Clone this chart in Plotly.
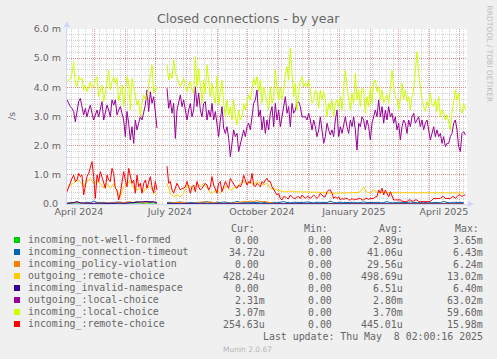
import numpy as np
import pandas as pd
import plotly.graph_objects as go

# ---------------- time base ----------------
START = pd.Timestamp("2024-04-03 02:00")
END = pd.Timestamp("2025-05-08 02:00")
SEG1_DAY = 0.0        # first block of data (days after START)
SEG2_DAY = 100.0      # data resumes after the outage
GAP_DAY = 95.0
FINE = 5.0 / 3.0      # sampling (days) of the fine series
COARSE = 10.0 / 3.0   # sampling (days) of the coarse series

# ---------------- values (milli per second) ----------------
lime_s1 = [4.19,4.25,4.31,4.48,4.88,4.14,4.02,4.37,4.25,4.31,3.91,4.08,3.85,4.02,4.19,3.97,4.02,4.25,4.37,3.68,
           3.91,4.08,3.51,3.79,4.14,4.59,3.91,4.19,4.37,4.14,4.31,3.51,3.79,4.08,3.34,3.85,4.37,4.19,3.22,4.31,
           4.02,3.68,3.39,3.57,2.99,3.45,3.74,3.57,3.68,4.02,4.48,4.77,3.79,4.02,3.91]
lime_s2 = [4.77,4.25,4.48,4.31,4.94,4.48,4.37,4.14,4.02,4.20,4.31,4.02,3.85,4.08,4.19,3.91,3.80,
           5.05,
           4.02,4.65,4.02,3.45,4.25,3.80,4.77,4.31,3.68,4.14, 3.68,3.45,4.37,3.39,3.85,4.25,3.45,2.99,3.57,3.05,
           3.34,2.88,3.57,2.99,2.71,3.22,2.88,2.99,3.45,3.22, 3.51,3.74,3.57,4.02,4.31,4.08,4.37,3.85,4.25,3.45,
           4.02,3.74,3.45,3.22,4.02,3.45,3.68,4.59,3.91,3.57, 4.02,3.57,3.85,4.48,4.71,4.25,5.34,4.37,3.68,4.14,
           3.22,3.80,4.25,4.37,4.02,4.14,4.02,4.25,3.74,3.45, 3.57,3.91,3.80,3.28,3.91,3.57,3.85,3.57,2.99,3.45,
           3.22,
           3.57,2.99,3.45,3.57,3.34,3.68,3.22,4.02,4.59,4.02, 3.68,3.22,3.80,3.45,4.48,3.57,3.91,3.34,3.97,3.91,
           3.11,3.68,3.34,4.02,3.45,4.14,4.25,3.85,4.02,3.57, 3.91,3.45,3.62,3.74,3.45,4.08,4.59,4.02,3.68,3.57,
           3.22,3.62,4.14,3.57,3.91,3.51,3.68,3.22,3.68,3.91, 4.71,5.22,4.48,4.02,3.57,3.34,3.17,3.51,3.34,3.80,
           3.45,3.34,3.57,3.17,3.68,2.99,3.22,3.11,2.88,3.05, 2.77,2.54,3.11,3.57,3.91,3.57,3.80,3.22,3.11,3.45,
           3.22]

purple_s1 = [3.57,3.45,3.34,3.28,3.17,2.82,3.22,3.51,3.62,3.34, 3.05,3.28,2.99,3.22,3.39,3.11,2.88,3.05,3.22,2.99,
             3.28,3.51,2.88,3.17,3.39,3.22,2.99,3.57,3.39,3.57, 3.05,3.22,3.34,3.11,2.88,2.31,3.17,2.77,2.20,2.65,
             2.08,2.88,2.54,2.77,2.99,2.88,3.11,3.39,3.91,3.17, 3.85,3.45,3.68,3.11,2.60]
purple_s2 = [3.97,3.28,3.57,3.11,3.45,2.25,3.22,3.45,3.74,3.34,3.57,3.22,2.88,3.22,3.45,2.99,3.22,
             4.02,
             3.34,3.80,3.22,2.99,3.45,3.51,2.88,3.22,2.99,3.45, 2.88,3.17,2.77,2.31,2.88,3.34,2.60,2.42,2.65,2.25,
             1.62,2.20,2.54,2.31,2.42,1.80,2.08,2.37,2.54,2.31, 2.65,2.77,2.54,2.99,3.45,3.57,3.91,2.99,3.22,2.54,
             2.99,2.42,2.88,2.54,3.11,3.34,2.65,3.45,2.88,3.22, 2.65,2.99,3.34,3.68,3.11,3.34,2.65,3.45,3.11,3.22,
             3.45,3.51,3.34,2.99,2.99,2.99,2.88,3.11,2.88,2.54, 2.88,2.65,2.31,2.54,2.99,2.42,2.08,2.31,2.77,2.54,
             2.37,
             2.54,2.31,2.88,3.22,2.31,2.65,2.42,2.77,2.99,2.65, 2.42,2.88,2.65,2.99,2.54,1.85,2.77,2.65,2.99,2.88,
             2.54,2.88,2.65,2.20,2.77,2.99,3.22,2.99,3.57,2.99, 3.34,2.77,3.22,2.88,3.34,2.99,3.11,2.77,2.99,2.54,
             2.77,2.20,2.65,2.88,2.77,2.42,2.88,2.65,2.99,3.11, 2.77,2.88,2.99,2.65,2.88,2.54,2.77,2.88,2.54,2.20,
             2.42,2.65,2.31,2.54,2.31,2.42,2.08,2.31,1.97,2.08, 2.08,2.31,2.42,2.77,2.88,2.54,1.97,1.80,2.42,2.48,
             2.37]

red_s1 = [0.42,0.59,0.77,0.88,0.99,0.77,0.82,1.05,0.94,0.99, 0.31,0.71,0.94,1.05,1.28,1.45,0.94,0.19,0.99,0.77,
          1.11,0.94,0.71,0.54,0.99,0.82,0.77,1.22,1.05,0.54, 0.48,0.14,0.37,0.82,1.11,0.82,0.59,1.22,0.99,0.71,
          0.82,0.37,0.99,0.59,0.71,0.37,0.71,0.82,0.54,0.71, 0.94,0.59,0.37,0.77,0.48]
red_s2 = [1.30,0.71,0.77,0.48,0.37,0.54,0.71,0.59,0.48,0.54,0.54,0.59,0.77,0.59,0.37,0.59,0.65,
          0.42,0.77,0.59,0.48,0.54,0.65,0.71,0.65,0.48,0.59, 0.94,0.65,0.48,0.37,0.71,0.77,0.42,0.59,0.77,0.65,
          0.54,0.88,0.77,0.65,0.59,0.54,0.65,0.59,0.71,0.99, 0.82,0.65,0.77,0.71,1.05,0.65,0.59,0.71,0.65,0.59,
          0.77,0.71,0.82,0.88,0.77,
          0.77,0.59,0.48,0.42,0.31,0.37,0.19,0.14,0.25,0.25, 0.19,0.19,0.31,0.25,0.19,0.19,0.25,0.25,0.19,0.31,
          0.25,0.19,0.25,0.25,0.19,0.25,0.31,0.25,0.19,0.25, 0.37,0.31,0.25,0.25,0.42,0.48,
          0.48,0.37,0.19,0.25,0.19,0.25,0.14,0.19,0.16,0.19, 0.19,0.14,0.14,0.19,0.14,0.16,0.16,0.19,0.19,0.14,
          0.14,0.19,0.19,0.16,0.19,0.19,0.19,0.25,0.25,0.48, 0.37,0.54,0.31,0.48,0.37,0.25,0.42,0.25,0.14,0.14,
          0.14,0.14,0.14,0.10,0.08,0.08,0.08,0.14,0.14,0.10, 0.10,0.14,0.14,0.08,0.08,0.08,0.08,0.08,0.08,0.08,
          0.08,0.14,0.19,0.19,0.19,0.19,0.19,0.25,0.25,0.19, 0.19,0.19,0.19,0.25,0.25,0.19,0.25,0.31,0.31,0.25,
          0.31,0.31]

yellow_s1 = [0.48,0.65,0.71,0.82,0.77,0.59,0.77,0.88,0.71,0.77,0.71,0.54,0.71,0.54,0.71,0.42,0.25,0.59,0.71,0.77,
             0.54,0.48,0.54,0.42,0.59,0.59,0.42,0.31]
yellow_s2 = [0.71,0.37,0.25,0.31,0.25,0.37,0.65,0.59,0.48,0.71, 0.59,0.71,0.59,0.37,0.42,0.48,0.37,0.54,0.59,0.48,
             0.54,0.59,0.71,0.77,0.71,0.77,0.65,0.77,0.71,0.65, 0.71,
             0.54,0.54,0.48,0.45,0.42,0.42,0.45,0.42,0.42,0.42,0.42,0.42,0.42,0.42,0.42,0.40,0.39,0.38,
             0.38,0.37,0.37,0.38,0.38,0.37,0.38,0.38,0.39,0.42, 0.58,0.40,0.39,0.48,0.40,0.39,0.39,0.38,0.38,0.39,
             0.38,0.38,0.38,0.39,0.38,0.38,0.37,0.37,0.37,0.38, 0.38,0.37,0.37,0.38,0.37,0.37,0.37,0.38,0.37,0.37,
             0.38]

blue_s1 = [0.03,0.04,0.03,0.05,0.04,0.03,0.06,0.04,0.10,0.05,0.04,0.06,0.03,0.05,0.04,0.07,0.05,0.04,0.06,0.05,
           0.04,0.09,0.05,0.04,0.06,0.05,0.04,0.05]
blue_s2 = [0.05,0.06,0.04,0.05,0.07,0.04,0.05,0.06,0.05,0.04, 0.06,0.05,0.08,0.05,0.04,0.06,0.05,0.07,0.05,0.04,
           0.05,0.09,0.05,0.04,0.06,0.05,0.04,0.05,0.07,0.05, 0.04,0.05,0.06,0.04,0.05,0.08,0.05,0.04,0.06,0.05,
           0.04,0.05,0.07,0.05,0.04,0.06,0.05,0.04,0.05,0.10, 0.05,0.04,0.06,0.05,0.04,0.05,0.06,0.04,0.05,0.07,
           0.05,0.04,0.05,0.06,0.04,0.05,0.08,0.05,0.04,0.06, 0.05,0.04,0.05,0.07,0.05,0.04,0.05,0.06,0.04,0.05,
           0.06,0.05,0.04,0.09,0.05,0.04,0.06,0.05,0.04,0.05]

orange_s1 = [0.02,0.03,0.05,0.06,0.04,0.02,0.03,0.02,0.02,0.03,0.02,0.04,0.03,0.02,0.03,0.05,0.07,0.04,0.06,0.08,
             0.05,0.07,0.06,0.04,0.06,0.09,0.05,0.03]
orange_s2 = [0.02,0.03,0.05,0.04,0.06,0.05,0.03,0.02,0.02,0.03, 0.05,0.08,0.06,0.07,0.04,0.03,0.02,0.02,0.03,0.02,
             0.02,0.03,0.06,0.09,0.07,0.10,0.08,0.12,0.06,0.09, 0.07,0.05,0.02,0.01,0.01,0.02,0.01,0.01,0.01,0.02,
             0.01,0.01,0.03,0.01,0.01,0.02,0.01,0.01,0.01,0.01, 0.02,0.01,0.01,0.01,0.02,0.01,0.01,0.01,0.01,0.02,
             0.01,0.01,0.01,0.01,0.01,0.02,0.01,0.01,0.01,0.01, 0.01,0.02,0.01,0.01,0.01,0.01,0.01,0.01,0.02,0.01,
             0.01,0.01,0.01,0.01,0.02,0.01,0.01,0.01,0.01,0.01]

navy_s1 = [0.02,0.03,0.05,0.08,0.04,0.03,0.02,0.03,0.02,0.03,0.02,0.03,0.02,0.02,0.03,0.02,0.03,0.02,0.03,0.04,
           0.05,0.04,0.05,0.06,0.09,0.07,0.08,0.04]
navy_s2 = [0.01,0.01,0.00,0.00,0.01,0.00,0.00,0.00,0.00,0.00, 0.00,0.00,0.00,0.00,0.00,0.00,0.00,0.00,0.00,0.00,
           0.00,0.00,0.00,0.00,0.00,0.00,0.00,0.00,0.00,0.00, 0.00,0.00,0.00,0.00,0.00,0.00,0.00,0.00,0.00,0.00,
           0.00,0.00,0.00,0.00,0.00,0.00,0.00,0.00,0.00,0.00, 0.00,0.00,0.00,0.00,0.00,0.00,0.00,0.00,0.00,0.00,
           0.00,0.00,0.00,0.00,0.00,0.00,0.00,0.00,0.00,0.00, 0.00,0.00,0.00,0.00,0.00,0.00,0.00,0.00,0.00,0.00,
           0.00,0.00,0.00,0.00,0.00,0.00,0.00,0.00,0.00,0.00]

green_s1 = [0.00,0.00,0.00,0.00,0.00,0.00,0.00,0.00,0.00,0.00,0.00,0.00,0.00,0.00,0.00,0.00,0.00,0.00,0.00,0.00,
            0.00,0.00,0.00,0.00,0.00,0.00,0.00,0.00]
green_s2 = [0.00,0.00,0.00,0.00,0.00,0.00,0.00,0.00,0.00,0.00, 0.00,0.00,0.00,0.00,0.00,0.00,0.00,0.00,0.00,0.00,
            0.00,0.00,0.00,0.00,0.00,0.00,0.00,0.00,0.00,0.00, 0.00,0.00,0.00,0.00,0.00,0.00,0.00,0.00,0.00,0.00,
            0.00,0.00,0.00,0.00,0.00,0.00,0.00,0.00,0.00,0.00, 0.00,0.00,0.00,0.00,0.00,0.00,0.00,0.00,0.00,0.00,
            0.00,0.00,0.00,0.00,0.00,0.00,0.00,0.00,0.00,0.00, 0.00,0.00,0.00,0.00,0.00,0.00,0.00,0.00,0.00,0.00,
            0.00,0.00,0.00,0.00,0.00,0.00,0.00,0.00,0.00,0.00]

# ---------------- legend ----------------
labels = ["incoming_not-well-formed", "incoming_connection-timeout", "incoming_policy-violation",
          "outgoing_:remote-choice", "incoming_invalid-namespace", "outgoing_:local-choice",
          "incoming_:local-choice", "incoming_:remote-choice"]
colors = ["#00CC00", "#0066B3", "#FF8000", "#FFCC00", "#330099", "#990099", "#CCFF00", "#FF0000"]
cur = ["0.00 ", "34.72u", "0.00 ", "428.24u", "0.00 ", "2.31m", "3.07m", "254.63u"]
mins = ["0.00 "] * 8
avg = ["2.89u", "41.06u", "29.56u", "498.69u", "6.51u", "2.80m", "3.70m", "445.01u"]
maxs = ["3.65m", "6.43m", "6.24m", "13.02m", "6.40m", "63.02m", "59.60m", "15.98m"]

series_data = [
    (green_s1, green_s2, COARSE), (blue_s1, blue_s2, COARSE), (orange_s1, orange_s2, COARSE),
    (yellow_s1, yellow_s2, COARSE), (navy_s1, navy_s2, COARSE), (purple_s1, purple_s2, FINE),
    (lime_s1, lime_s2, FINE), (red_s1, red_s2, FINE),
]

y_ticks = [0, 1, 2, 3, 4, 5, 6]
y_text = ["0.0\u00a0", "1.0 m", "2.0 m", "3.0 m", "4.0 m", "5.0 m", "6.0 m"]
x_label_text = ["April 2024", "July 2024", "October 2024", "January 2025", "April 2025"]
x_label_at = ["2024-04-15", "2024-07-15", "2024-10-15", "2025-01-15", "2025-04-15"]


def make_xy(s1, s2, step):
    t1 = START + pd.to_timedelta(SEG1_DAY + np.arange(len(s1)) * step, unit="D")
    t2 = START + pd.to_timedelta(SEG2_DAY + np.arange(len(s2)) * step, unit="D")
    gap = START + pd.to_timedelta(GAP_DAY, unit="D")
    return list(t1) + [gap] + list(t2), list(s1) + [None] + list(s2)


# ---------------- figure geometry ----------------
W, H = 497, 359
ML, MR, MT, MB = 67, 30, 29, 155
PW, PH = W - ML - MR, H - MT - MB


def px(x):
    return (x - ML) / PW


def py(y):
    return (H - MB - y) / PH


FONT = "DejaVu Sans"
MONO = "DejaVu Sans Mono"
TXT = "#666666"
AXIS = "#CFD6F8"

fig = go.Figure()
for (s1, s2, step), name, col in zip(series_data, labels, colors):
    x, y = make_xy(s1, s2, step)
    fig.add_trace(go.Scatter(x=x, y=y, mode="lines", name=name,
                             line=dict(color=col, width=1), connectgaps=False,
                             hoverinfo="skip", showlegend=False))

month_starts = pd.date_range("2024-05-01", "2025-05-01", freq="MS")

fig.update_layout(
    width=W, height=H,
    margin=dict(l=ML, r=MR, t=MT, b=MB, pad=0),
    paper_bgcolor="#F0F0F0", plot_bgcolor="#FFFFFF",
    showlegend=False,
    xaxis=dict(type="date", range=[START, END], tickmode="array", tickvals=list(month_starts),
               showticklabels=False, ticks="", showgrid=True,
               gridcolor="rgba(222,79,79,0.55)", griddash="1px,1px", gridwidth=1,
               showline=True, linecolor=AXIS, linewidth=1, zeroline=False,
               minor=dict(dtick=7 * 86400000, tick0="2024-04-01", showgrid=True,
                          gridcolor="rgba(143,143,143,0.38)", griddash="1px,1px", gridwidth=1)),
    xaxis2=dict(type="date", range=[START, END], overlaying="x", anchor="y", side="bottom",
                tickmode="array", tickvals=x_label_at, ticktext=x_label_text,
                showgrid=False, showline=False, zeroline=False, ticks="",
                tickfont=dict(family=FONT, size=9.5, color=TXT)),
    yaxis=dict(range=[0, 6], tickmode="array", tickvals=y_ticks, ticktext=y_text,
               ticks="outside", ticklen=3, tickcolor="rgba(0,0,0,0)",
               tickfont=dict(family=FONT, size=9.5, color=TXT),
               showgrid=True, gridcolor="rgba(222,79,79,0.55)", griddash="1px,1px", gridwidth=1,
               showline=True, linecolor=AXIS, linewidth=1, zeroline=False,
               minor=dict(dtick=0.2, showgrid=True, gridcolor="rgba(143,143,143,0.38)",
                          griddash="1px,1px", gridwidth=1)),
)

# invisible trace so the label axis (xaxis2) is drawn
fig.add_trace(go.Scatter(x=[START], y=[None], xaxis="x2", yaxis="y", mode="lines",
                         showlegend=False, hoverinfo="skip"))

ann = []
ann.append(dict(x=px(248.5), y=py(19), text="Closed connections - by year", showarrow=False,
                xanchor="center", yanchor="middle", font=dict(family=FONT, size=12.6, color=TXT)))
ann.append(dict(x=px(11), y=py(116), text="/s", showarrow=False, textangle=-90,
                xanchor="center", yanchor="middle", font=dict(family=FONT, size=9.5, color=TXT)))
ann.append(dict(x=px(489.5), y=py(54), text="RRDTOOL / TOBI OETIKER", showarrow=False, textangle=90,
                xanchor="center", yanchor="middle", font=dict(family=FONT, size=7.5, color="#BBBBBB")))
ann.append(dict(x=px(247), y=py(349), text="Munin 2.0.67", showarrow=False,
                xanchor="center", yanchor="middle", font=dict(family=FONT, size=7.5, color="#B4B4B4")))

for hx, ht in zip([230, 303, 378, 454], ["Cur:", "Min:", "Avg:", "Max:"]):
    ann.append(dict(x=px(hx), y=py(228), text=ht, showarrow=False, xanchor="left", yanchor="middle",
                    borderpad=0, font=dict(family=MONO, size=9.9, color=TXT)))

shapes = []
for i, (lab, col) in enumerate(zip(labels, colors)):
    ry = 240 + 12 * i
    shapes.append(dict(type="rect", xref="paper", yref="paper", x0=px(14), x1=px(20),
                       y0=py(ry + 3), y1=py(ry - 3), fillcolor=col, line=dict(width=0)))
    ann.append(dict(x=px(27), y=py(ry), text=lab, showarrow=False, xanchor="left", yanchor="middle",
                    borderpad=0, font=dict(family=MONO, size=9.9, color=TXT)))
    for rx, val in zip([265.5, 338.5, 403.5, 483.5], [cur[i], mins[i], avg[i], maxs[i]]):
        ann.append(dict(x=px(rx), y=py(ry), text=val.replace(" ", "\u00a0"), showarrow=False,
                        xanchor="right", yanchor="middle", borderpad=0,
                        font=dict(family=MONO, size=9.9, color=TXT)))

ann.append(dict(x=px(483.5), y=py(336), text="Last update: Thu May\u00a0\u00a08 02:00:16 2025",
                showarrow=False, xanchor="right", yanchor="middle", borderpad=0,
                font=dict(family=MONO, size=9.9, color=TXT)))

for a in ann:
    a.setdefault("xref", "paper")
    a.setdefault("yref", "paper")

# axis arrows
shapes.append(dict(type="line", xref="paper", yref="paper", x0=0, x1=0, y0=1, y1=py(23),
                   line=dict(color=AXIS, width=1)))
shapes.append(dict(type="path", xref="paper", yref="paper",
                   path=f"M {px(64)} {py(27)} L {px(67)} {py(21)} L {px(70)} {py(27)} Z",
                   fillcolor=AXIS, line=dict(width=0)))
shapes.append(dict(type="line", xref="paper", yref="paper", x0=1, x1=px(470), y0=0, y1=0,
                   line=dict(color=AXIS, width=1)))
shapes.append(dict(type="path", xref="paper", yref="paper",
                   path=f"M {px(468)} {py(201)} L {px(474)} {py(204)} L {px(468)} {py(207)} Z",
                   fillcolor=AXIS, line=dict(width=0)))

fig.update_layout(annotations=ann, shapes=shapes)
fig.write_html("out.html",
               config={"displayModeBar": False, "staticPlot": True},
               post_script="document.body.style.margin='0';document.body.style.padding='0';"
                           "document.body.style.background='#F0F0F0';")
